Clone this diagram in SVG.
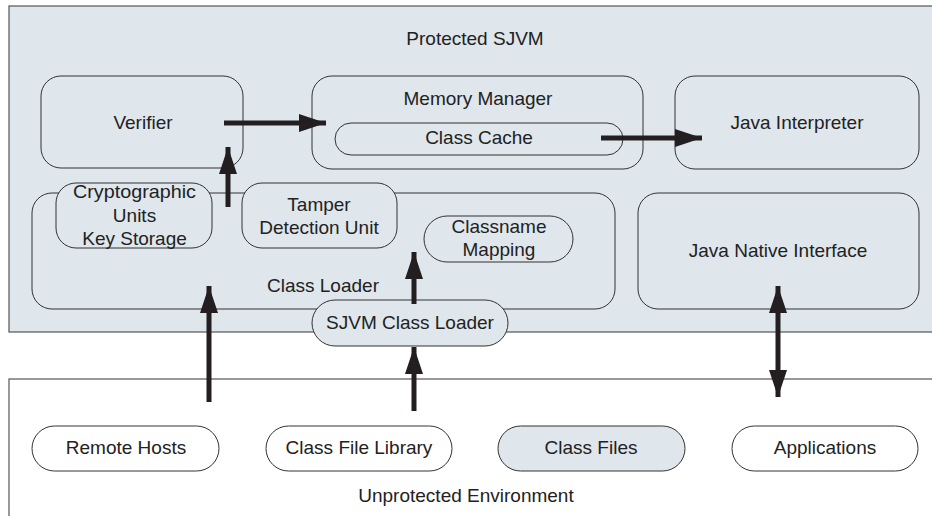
<svg xmlns="http://www.w3.org/2000/svg" width="932" height="516" viewBox="0 0 932 516">
  <style>
    .zone { stroke: #555; stroke-width: 1.2; }
    .box { fill: #dfe6ec; stroke: #333; stroke-width: 1; }
    .pill { fill: #ffffff; stroke: #333; stroke-width: 1; }
    .lbl { font-family: "Liberation Sans", Arial, sans-serif; font-size: 19px; fill: #222; text-anchor: middle; }
    .flow { stroke: #231f20; stroke-width: 5; fill: none; }
  </style>
  <defs>
    <marker id="head" viewBox="0 0 27 18" refX="27" refY="9" markerWidth="27" markerHeight="18" markerUnits="userSpaceOnUse" orient="auto-start-reverse">
      <path d="M0,0 L27,9 L0,18 Z" fill="#231f20"/>
    </marker>
  </defs>

  <rect width="932" height="516" fill="#ffffff"/>

  <!-- protected area -->
  <g id="protected-sjvm">
    <rect class="zone" x="9" y="6" width="930" height="326" fill="#dfe6ec"/>
    <text class="lbl" x="475" y="45">Protected SJVM</text>
  </g>

  <!-- unprotected area -->
  <g id="unprotected-environment">
    <rect class="zone" x="9" y="379" width="930" height="145" fill="#ffffff"/>
    <text class="lbl" x="466" y="502">Unprotected Environment</text>
  </g>

  <g id="verifier">
    <rect class="box" x="41" y="76" width="202" height="92" rx="20"/>
    <text class="lbl" x="143" y="129">Verifier</text>
  </g>

  <g id="memory-manager">
    <rect class="box" x="312" y="76" width="331" height="93" rx="20"/>
    <text class="lbl" x="478" y="105">Memory Manager</text>
  </g>

  <g id="class-cache">
    <rect class="box" x="335" y="123" width="288" height="32" rx="16"/>
    <text class="lbl" x="479" y="144">Class Cache</text>
  </g>

  <g id="java-interpreter">
    <rect class="box" x="675" y="76" width="244" height="93" rx="20"/>
    <text class="lbl" x="797" y="129">Java Interpreter</text>
  </g>

  <g id="class-loader">
    <rect class="box" x="32" y="193" width="583" height="116" rx="20"/>
    <text class="lbl" x="323" y="292">Class Loader</text>
  </g>

  <g id="cryptographic-units">
    <rect class="box" x="56" y="183" width="156" height="65" rx="20"/>
    <text class="lbl" x="134.5" y="198" textLength="123" lengthAdjust="spacingAndGlyphs">Cryptographic</text>
    <text class="lbl" x="134.5" y="222">Units</text>
    <text class="lbl" x="134.5" y="245">Key Storage</text>
  </g>

  <g id="tamper-detection-unit">
    <rect class="box" x="242" y="183" width="155" height="65" rx="20"/>
    <text class="lbl" x="319" y="211">Tamper</text>
    <text class="lbl" x="319" y="234">Detection Unit</text>
  </g>

  <g id="classname-mapping">
    <rect class="box" x="424" y="216" width="149" height="46" rx="23"/>
    <text class="lbl" x="499" y="233">Classname</text>
    <text class="lbl" x="499" y="256">Mapping</text>
  </g>

  <g id="java-native-interface">
    <rect class="box" x="638" y="193" width="281" height="116" rx="20"/>
    <text class="lbl" x="778" y="257">Java Native Interface</text>
  </g>

  <g id="sjvm-class-loader">
    <rect class="box" x="312" y="300" width="196" height="46" rx="23"/>
    <text class="lbl" x="410" y="329">SJVM Class Loader</text>
  </g>

  <g id="remote-hosts">
    <rect class="pill" x="32" y="426" width="187" height="45" rx="22.5"/>
    <text class="lbl" x="126" y="454">Remote Hosts</text>
  </g>

  <g id="class-file-library">
    <rect class="pill" x="266" y="426" width="186" height="45" rx="22.5"/>
    <text class="lbl" x="359" y="454">Class File Library</text>
  </g>

  <g id="class-files">
    <rect class="box" x="498" y="426" width="187" height="45" rx="22.5"/>
    <text class="lbl" x="591" y="454">Class Files</text>
  </g>

  <g id="applications">
    <rect class="pill" x="732" y="426" width="186" height="45" rx="22.5"/>
    <text class="lbl" x="825" y="454">Applications</text>
  </g>

  <!-- data flow arrows -->
  <g id="connectors">
    <line class="flow" x1="224" y1="123" x2="326" y2="123" marker-end="url(#head)"/>
    <line class="flow" x1="601" y1="138" x2="702" y2="138" marker-end="url(#head)"/>
    <line class="flow" x1="228" y1="207" x2="228" y2="147" marker-end="url(#head)"/>
    <line class="flow" x1="414" y1="304" x2="414" y2="252" marker-end="url(#head)"/>
    <line class="flow" x1="209" y1="402" x2="209" y2="286" marker-end="url(#head)"/>
    <line class="flow" x1="414" y1="411" x2="414" y2="347" marker-end="url(#head)"/>
    <line class="flow" x1="778" y1="286" x2="778" y2="397" marker-start="url(#head)" marker-end="url(#head)"/>
  </g>
</svg>
